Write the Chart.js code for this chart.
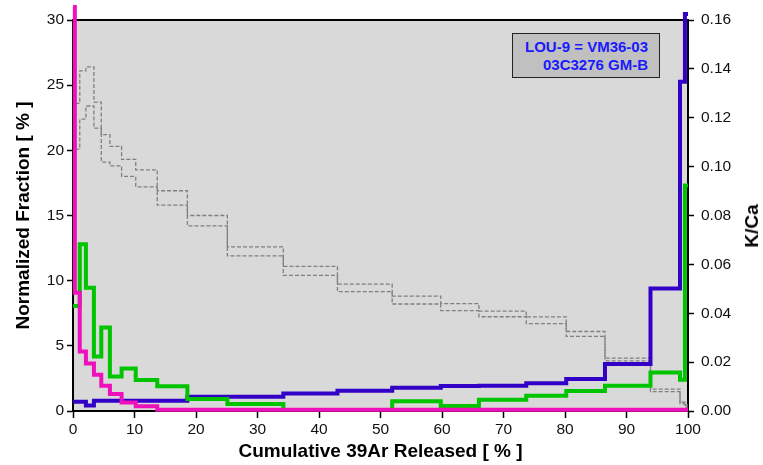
<!DOCTYPE html>
<html>
<head>
<meta charset="utf-8">
<script src="https://cdn.jsdelivr.net/npm/chart.js@4/dist/chart.umd.min.js"></script>
<style>
  body { margin: 0; background: #fff; }
  #wrap { position: relative; width: 763px; height: 465px; }
  .sample {
    position: absolute; left: 512px; top: 33px; width: 148px; height: 45px;
    background: #c0c0c0; border: 1px solid #222;
    font: bold 15px "Liberation Sans", Arial, sans-serif; color: #1a1aff;
    text-align: right; line-height: 18px; padding: 4px 11px 0 0; box-sizing: border-box;
  }
  .ktitle {
    position: absolute; left: 752px; top: 226px;
    transform: translate(-50%, -50%) rotate(-90deg);
    font: bold 19px "Liberation Sans", Arial, sans-serif; color: #000; white-space: nowrap;
  }
</style>
</head>
<body>
<div id="wrap">
  <canvas id="spectrum" width="763" height="465"></canvas>
  <div class="sample">LOU-9 = VM36-03<br>03C3276 GM-B</div>
  <div class="ktitle">K/Ca</div>
</div>
<script>
// step boundaries, cumulative 39Ar released (%)
const cumulative = [0, 0.3, 1.1, 2.1, 3.4, 4.6, 6.0, 7.9, 10.2, 13.7, 18.6, 25.1, 34.2,
  43.0, 51.9, 59.8, 66.0, 73.7, 80.2, 86.5, 93.9, 98.7, 99.5, 100]

// normalized fraction, upper / lower envelope (%)
const fractionHigh = [20.1, 23.6, 26.1, 26.4, 23.7, 21.2, 20.3, 19.3, 18.5, 16.9, 15.0, 12.6,
  11.1, 9.74, 8.82, 8.24, 7.66, 7.22, 6.10, 4.06, 1.68, 0.67, 0.46]
const fractionLow = [23.6, 20.1, 22.4, 23.4, 21.7, 19.1, 18.8, 18.0, 17.2, 15.8, 14.2, 11.9,
  10.4, 9.16, 8.21, 7.70, 7.23, 6.71, 5.72, 3.85, 1.48, 0.54, 0.30]

const greenSteps = [8.06, 8.06, 12.8, 9.46, 4.18, 6.40, 2.65, 3.27, 2.37, 1.89, 0.92, 0.54,
  0, 0, 0.74, 0.38, 0.87, 1.17, 1.53, 1.94, 2.96, 2.40, 17.3]
const pinkSteps = [31, 9.08, 4.57, 3.65, 2.78, 1.94, 1.30, 0.66, 0.36, 0.1, 0.1, 0.1,
  0.1, 0.1, 0.1, 0.1, 0.1, 0.1, 0.1, 0.1, 0.1, 0.1, 0.1]

// K/Ca (right axis)
const kca = [0.0038, 0.0038, 0.0038, 0.0022, 0.0042, 0.0042, 0.0042, 0.0042, 0.0042, 0.0042,
  0.0058, 0.0058, 0.0072, 0.0083, 0.0095, 0.0102, 0.0103, 0.0114, 0.0131, 0.0192,
  0.0501, 0.1347, 0.1625]

const releaseTicks = [0, 10, 20, 30, 40, 50, 60, 70, 80, 90, 100]
const fractionTicks = [0, 5, 10, 15, 20, 25, 30]
const kcaTicks = [0, 0.02, 0.04, 0.06, 0.08, 0.10, 0.12, 0.14, 0.16]

function stepPoints (values) {
  const pts = values.map((v, i) => ({ x: cumulative[i], y: v }))
  pts.push({ x: cumulative[cumulative.length - 1], y: values[values.length - 1] })
  return pts
}

const tickFont = { family: "'Liberation Sans', Arial, sans-serif", size: 15.5 }
const titleFont = { family: "'Liberation Sans', Arial, sans-serif", size: 19, weight: 'bold' }

/* grey plot area and its top edge */
const plotFrame = {
  id: 'plotFrame',
  beforeDraw (chart) {
    const { ctx, chartArea: a } = chart
    ctx.save()
    ctx.fillStyle = '#d9d9d9'
    ctx.fillRect(a.left, a.top, a.width, a.height)
    ctx.restore()
  },
  beforeDatasetsDraw (chart) {
    const { ctx, chartArea: a } = chart
    ctx.save()
    ctx.strokeStyle = '#000'
    ctx.lineWidth = 2
    ctx.beginPath()
    ctx.moveTo(a.left, a.top)
    ctx.lineTo(a.right, a.top)
    ctx.stroke()
    ctx.restore()
  }
}

const line = (label, values, color, width, axis, extra) => Object.assign({
  label: label,
  data: stepPoints(values),
  borderColor: color,
  borderWidth: width,
  stepped: 'before',
  pointRadius: 0,
  fill: false,
  yAxisID: axis
}, extra)

const data = {
  datasets: [
    line('pink', pinkSteps, '#ee10bb', 4, 'y', { clip: false }),
    line('green', greenSteps, '#00c400', 4, 'y'),
    line('K/Ca', kca, '#3300c8', 4, 'y1', { clip: false }),
    line('upper', fractionHigh, '#808080', 1.3, 'y', { borderDash: [4, 2] }),
    line('lower', fractionLow, '#808080', 1.3, 'y', { borderDash: [4, 2] })
  ]
}

const config = {
  type: 'line',
  data: data,
  plugins: [plotFrame],
  options: {
    responsive: false,
    animation: false,
    devicePixelRatio: 1,
    layout: { padding: { top: 20, left: 0, right: 0, bottom: 0 } },
    plugins: { legend: { display: false }, tooltip: { enabled: false } },
    scales: {
      x: {
        type: 'linear', min: 0, max: 100,
        afterFit: (scale) => { scale.height = 54 },
        afterBuildTicks: (scale) => { scale.ticks = releaseTicks.map(v => ({ value: v })) },
        ticks: { font: tickFont, color: '#111', padding: 2, maxRotation: 0 },
        grid: { drawOnChartArea: false, tickLength: 7, tickColor: '#000', tickWidth: 1.5 },
        border: { color: '#000', width: 2 },
        title: { display: true, text: 'Cumulative 39Ar Released [ % ]', font: titleFont, color: '#000', padding: { bottom: 2 } }
      },
      y: {
        position: 'left', min: 0, max: 30,
        afterFit: (scale) => { scale.width = 73 },
        afterBuildTicks: (scale) => { scale.ticks = fractionTicks.map(v => ({ value: v })) },
        ticks: { font: tickFont, color: '#111', padding: 3 },
        grid: { drawOnChartArea: false, tickLength: 6, tickColor: '#000', tickWidth: 1.5 },
        border: { color: '#000', width: 2 },
        title: { display: true, text: 'Normalized Fraction [ % ]', font: titleFont, color: '#000', padding: { top: 12 } }
      },
      y1: {
        position: 'right', min: 0, max: 0.16,
        afterFit: (scale) => { scale.width = 75 },
        afterBuildTicks: (scale) => { scale.ticks = kcaTicks.map(v => ({ value: v })) },
        ticks: { font: tickFont, color: '#111', padding: 7, callback: (v) => v.toFixed(2) },
        grid: { drawOnChartArea: false, tickLength: 6, tickColor: '#000', tickWidth: 1.5 },
        border: { color: '#000', width: 2 }
      }
    }
  }
}

new Chart(document.querySelector('#spectrum'), config)
</script>
</body>
</html>
